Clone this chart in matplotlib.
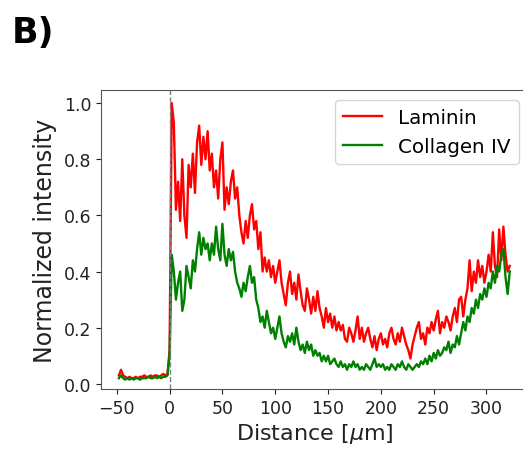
import numpy as np
import matplotlib
matplotlib.use("Agg")
import matplotlib.pyplot as plt

# Distance sample positions [um]
distance = np.arange(-48, 324, 2)

laminin_base = [0.03, 0.05, 0.03, 0.025, 0.02, 0.025, 0.02, 0.02, 0.025, 0.02,
                0.025, 0.025, 0.03, 0.025, 0.025, 0.03, 0.025, 0.03, 0.03, 0.025,
                0.03, 0.035, 0.03, 0.035]
laminin_main = [
    0.12, 1.00, 0.93, 0.62, 0.72, 0.58, 0.80, 0.60, 0.52, 0.78,
    0.70, 0.82, 0.68, 0.86, 0.92, 0.78, 0.88, 0.80, 0.90, 0.76,
    0.82, 0.70, 0.76, 0.66, 0.80, 0.86, 0.62, 0.70, 0.64, 0.72,
    0.76, 0.66, 0.70, 0.60, 0.54, 0.50, 0.58, 0.52, 0.60, 0.64,
    0.55, 0.58, 0.48, 0.54, 0.40, 0.45, 0.40, 0.44, 0.38, 0.42,
    0.36, 0.40, 0.44, 0.36, 0.32, 0.28, 0.36, 0.40, 0.32, 0.36,
    0.30, 0.39, 0.33, 0.28, 0.26, 0.34, 0.30, 0.25, 0.31, 0.26,
    0.33, 0.27, 0.24, 0.20, 0.27, 0.22, 0.25, 0.20, 0.24, 0.19,
    0.22, 0.19, 0.21, 0.16, 0.15, 0.20, 0.18, 0.15, 0.19, 0.24,
    0.16, 0.20, 0.15, 0.18, 0.20, 0.16, 0.13, 0.17, 0.12, 0.16,
    0.18, 0.14, 0.16, 0.13, 0.18, 0.20, 0.16, 0.14, 0.18, 0.15,
    0.20, 0.17, 0.14, 0.12, 0.09, 0.14, 0.17, 0.20, 0.22, 0.16,
    0.18, 0.14, 0.20, 0.18, 0.22, 0.19, 0.23, 0.26, 0.18, 0.22,
    0.20, 0.24, 0.22, 0.19, 0.24, 0.27, 0.22, 0.30, 0.31, 0.24,
    0.30, 0.34, 0.44, 0.33, 0.40, 0.36, 0.44, 0.38, 0.42, 0.36,
    0.40, 0.46, 0.40, 0.54, 0.42, 0.38, 0.55, 0.44, 0.56, 0.46,
    0.40, 0.42]

collagen_base = [0.02, 0.03, 0.02, 0.015, 0.02, 0.015, 0.02, 0.015, 0.02, 0.02,
                 0.015, 0.02, 0.02, 0.02, 0.025, 0.02, 0.02, 0.025, 0.02, 0.025,
                 0.02, 0.025, 0.025, 0.03]
collagen_main = [
    0.10, 0.46, 0.40, 0.30, 0.36, 0.40, 0.26, 0.30, 0.42, 0.38,
    0.34, 0.44, 0.40, 0.48, 0.54, 0.46, 0.52, 0.48, 0.50, 0.44,
    0.50, 0.46, 0.56, 0.48, 0.44, 0.57, 0.46, 0.42, 0.48, 0.44,
    0.47, 0.40, 0.36, 0.34, 0.31, 0.36, 0.33, 0.38, 0.42, 0.36,
    0.38, 0.30, 0.27, 0.22, 0.24, 0.20, 0.26, 0.22, 0.18, 0.20,
    0.16, 0.20, 0.24, 0.18, 0.15, 0.13, 0.17, 0.15, 0.18, 0.14,
    0.20, 0.15, 0.12, 0.14, 0.11, 0.15, 0.12, 0.14, 0.10, 0.12,
    0.10, 0.11, 0.08, 0.10, 0.08, 0.10, 0.07, 0.08, 0.09, 0.07,
    0.06, 0.08, 0.06, 0.07, 0.05, 0.07, 0.06, 0.08, 0.06, 0.07,
    0.05, 0.06, 0.05, 0.07, 0.06, 0.05, 0.07, 0.09, 0.06, 0.07,
    0.06, 0.07, 0.05, 0.06, 0.05, 0.07, 0.06, 0.05, 0.07, 0.06,
    0.08, 0.06, 0.05, 0.07, 0.06, 0.05, 0.06, 0.07, 0.06, 0.08,
    0.07, 0.09, 0.07, 0.10, 0.08, 0.11, 0.09, 0.12, 0.10, 0.11,
    0.13, 0.12, 0.15, 0.11, 0.14, 0.13, 0.17, 0.14, 0.18, 0.22,
    0.19, 0.24, 0.22, 0.27, 0.25, 0.30, 0.27, 0.32, 0.30, 0.34,
    0.31, 0.36, 0.34, 0.40, 0.36, 0.42, 0.40, 0.46, 0.48, 0.38,
    0.32, 0.40]

laminin = laminin_base + laminin_main
collagen = collagen_base + collagen_main

xticks = [-50, 0, 50, 100, 150, 200, 250, 300]
yticks = [0.0, 0.2, 0.4, 0.6, 0.8, 1.0]

fig = plt.figure(figsize=(5.23, 4.56), dpi=100)
# axes extends slightly past the right edge (cropped in the reference)
ax = fig.add_axes([0.193, 0.145, 0.818, 0.655])

ax.plot(distance, laminin, color="red", lw=1.7, label="Laminin")
ax.plot(distance, collagen, color="green", lw=1.7, label="Collagen IV")
ax.axvline(0, color="grey", ls="--", lw=1.0)

ax.set_xlim(-65, 340)
ax.set_ylim(-0.018, 1.046)
ax.set_xticks(xticks)
ax.set_yticks(yticks)
ax.set_yticklabels([f"{v:.1f}" for v in yticks])
ax.tick_params(labelsize=12.5, colors="#222222")
for s in ax.spines.values():
    s.set_color("#555555")

ax.set_xlabel("Distance [$\\mu$m]", fontsize=16, color="#222222", labelpad=3)
ax.set_ylabel("Normalized intensity", fontsize=17, color="#222222", labelpad=5)
ax.legend(loc="upper right", fontsize=14.3)

fig.text(0.022, 0.965, "B)", fontsize=25, fontweight="bold", va="top", ha="left")

fig.savefig("out.png", dpi=100)
